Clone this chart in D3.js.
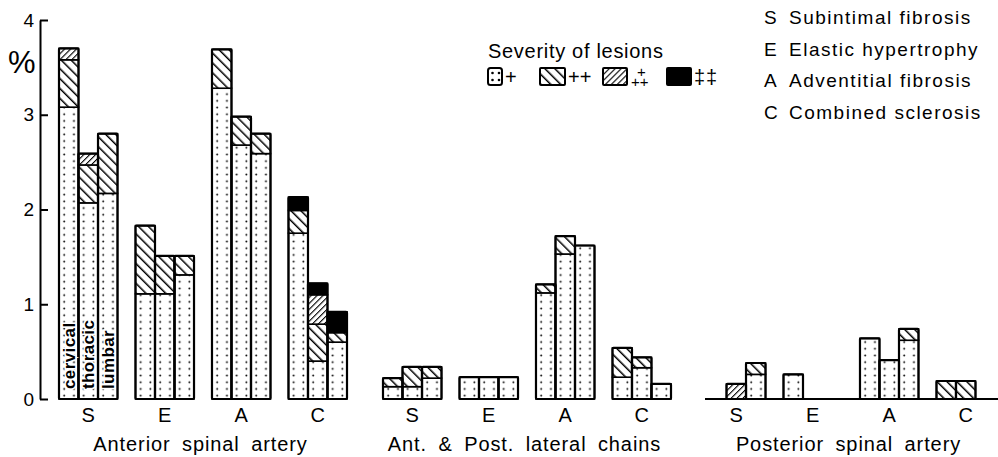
<!DOCTYPE html>
<html>
<head>
<meta charset="utf-8">
<script src="https://cdn.jsdelivr.net/npm/d3@7"></script>
<style>
  body { margin: 0; background: #fff; }
  svg { display: block; font-family: "Liberation Sans", Arial, sans-serif; }
</style>
</head>
<body>
<div id="chart"></div>
<script>
// vessels, lesion types, cord levels
const clusters = ["Anterior spinal artery", "Ant. & Post. lateral chains", "Posterior spinal artery"];
const groups = ["S", "E", "A", "C"];
const regions = ["cervical", "thoracic", "lumbar"];
const severityKeys = ["p1", "p2", "p3", "p4"];

// values (%) per cluster -> group -> [cervical, thoracic, lumbar]
// "+"
const sevPlus = [
  [[3.08, 2.07, 2.17], [1.11, 1.11, 1.31], [3.28, 2.68, 2.59], [1.75, 0.40, 0.60]],
  [[0.13, 0.13, 0.22], [0.23, 0.23, 0.23], [1.12, 1.53, 1.62], [0.23, 0.33, 0.16]],
  [[0, 0, 0.26], [0.26, 0, 0], [0.64, 0.41, 0.62], [0, 0, 0]]
];
// "++"
const sevPlus2 = [
  [[0.50, 0.40, 0.63], [0.72, 0.40, 0.20], [0.41, 0.30, 0.21], [0.24, 0.39, 0.10]],
  [[0.09, 0.21, 0.12], [0, 0, 0], [0.09, 0.19, 0], [0.31, 0.11, 0]],
  [[0, 0, 0.12], [0, 0, 0], [0, 0, 0.12], [0.19, 0.19, 0]]
];
// "+++"
const sevPlus3 = [
  [[0.12, 0.12, 0], [0, 0, 0], [0, 0, 0], [0, 0.31, 0]],
  [[0, 0, 0], [0, 0, 0], [0, 0, 0], [0, 0, 0]],
  [[0, 0.16, 0], [0, 0, 0], [0, 0, 0], [0, 0, 0]]
];
// "‡‡"
const sevPlus4 = [
  [[0, 0, 0], [0, 0, 0], [0, 0, 0], [0.14, 0.12, 0.22]],
  [[0, 0, 0], [0, 0, 0], [0, 0, 0], [0, 0, 0]],
  [[0, 0, 0], [0, 0, 0], [0, 0, 0], [0, 0, 0]]
];

const yTicks = [0, 1, 2, 3, 4];
const typeLegend = [
  { code: "S", text: "Subintimal fibrosis" },
  { code: "E", text: "Elastic hypertrophy" },
  { code: "A", text: "Adventitial fibrosis" },
  { code: "C", text: "Combined sclerosis" }
];

const width = 998, height = 457;

// build rows for the stack
let rows = [];
clusters.forEach((cl, ci) => {
  groups.forEach((g, gi) => {
    regions.forEach((r, ri) => {
      rows.push({
        id: rows.length,
        cluster: cl, group: g, region: r,
        p1: sevPlus[ci][gi][ri],
        p2: sevPlus2[ci][gi][ri],
        p3: sevPlus3[ci][gi][ri],
        p4: sevPlus4[ci][gi][ri]
      });
    });
  });
});

const svg = d3.select("#chart").append("svg")
  .attr("width", width)
  .attr("height", height);

// scales
const x0 = d3.scaleBand().domain(clusters).range([59, 994]).paddingInner(37 / 324).paddingOuter(0);
const x1 = d3.scaleBand().domain(groups).range([0, 288]).paddingInner(0.235).paddingOuter(0);
const x2 = d3.scaleBand().domain(regions).range([0, x1.bandwidth()]);
const y = d3.scaleLinear().domain([0, 4]).range([399, 20]);

const barX = d => x0(d.cluster) + x1(d.group) + x2(d.region);
const bw = x2.bandwidth();

// patterns
const defs = svg.append("defs");

// dotted "+" : one pattern per bar so the two dot columns line up in every bar
const dotPat = defs.selectAll("pattern.dots")
  .data(rows)
  .join("pattern")
  .attr("class", "dots")
  .attr("id", d => "dots" + d.id)
  .attr("patternUnits", "userSpaceOnUse")
  .attr("x", d => barX(d)).attr("y", y(0))
  .attr("width", bw / 2).attr("height", 6.7);
dotPat.append("rect").attr("width", bw / 2).attr("height", 6.7).attr("fill", "#fff");
dotPat.append("circle").attr("cx", bw / 4 + 0.3).attr("cy", 3.3).attr("r", 0.95).attr("fill", "#000");

// "++" : lines running top-left to bottom-right
const hatchBack = defs.append("pattern")
  .attr("id", "hatchBack").attr("patternUnits", "userSpaceOnUse")
  .attr("width", 7).attr("height", 7)
  .attr("patternTransform", "rotate(-45)");
hatchBack.append("rect").attr("width", 7).attr("height", 7).attr("fill", "#fff");
hatchBack.append("line").attr("x1", 0).attr("y1", 0).attr("x2", 0).attr("y2", 7)
  .attr("stroke", "#000").attr("stroke-width", 3);

// "+++" : denser lines the other way
const hatchFwd = defs.append("pattern")
  .attr("id", "hatchFwd").attr("patternUnits", "userSpaceOnUse")
  .attr("width", 4.2).attr("height", 4.2)
  .attr("patternTransform", "rotate(45)");
hatchFwd.append("rect").attr("width", 4.2).attr("height", 4.2).attr("fill", "#fff");
hatchFwd.append("line").attr("x1", 0).attr("y1", 0).attr("x2", 0).attr("y2", 4.2)
  .attr("stroke", "#000").attr("stroke-width", 2.2);

const fillFor = (key, row) => {
  if (key === "p1") return `url(#dots${row.id})`;
  if (key === "p2") return "url(#hatchBack)";
  if (key === "p3") return "url(#hatchFwd)";
  return "#000";
};

// y axis
const yAxis = d3.axisLeft(y).tickValues(yTicks).tickFormat(d3.format("d"))
  .tickSize(-8).tickSizeOuter(0).tickPadding(6);
const ya = svg.append("g")
  .attr("transform", "translate(40,0)")
  .call(yAxis);
ya.select(".domain").attr("stroke-width", 2);
ya.selectAll(".tick line").attr("stroke-width", 2);
ya.selectAll(".tick text").attr("font-size", 19).attr("fill", "#000")
  .attr("font-family", "Liberation Sans, Arial, sans-serif");

svg.append("text")
  .attr("x", 8).attr("y", 73)
  .attr("font-size", 31)
  .text("%");

// posterior baseline
svg.append("line")
  .attr("x1", x0(clusters[2]) - 2).attr("x2", width)
  .attr("y1", y(0)).attr("y2", y(0))
  .attr("stroke", "#000").attr("stroke-width", 2.2);

// stacked bars
const series = d3.stack().keys(severityKeys)(rows);
const bars = svg.append("g");
series.forEach(s => {
  bars.append("g")
    .selectAll("rect")
    .data(s.filter(d => d[1] - d[0] > 0))
    .join("rect")
    .attr("x", d => barX(d.data))
    .attr("width", bw)
    .attr("y", d => y(d[1]))
    .attr("height", d => y(d[0]) - y(d[1]))
    .attr("fill", d => fillFor(s.key, d.data))
    .attr("stroke", "#000")
    .attr("stroke-width", 1.6);
});

// outline each bar
bars.append("g")
  .selectAll("rect")
  .data(rows.filter(d => d.p1 + d.p2 + d.p3 + d.p4 > 0))
  .join("rect")
  .attr("x", d => barX(d))
  .attr("width", bw)
  .attr("y", d => y(d.p1 + d.p2 + d.p3 + d.p4))
  .attr("height", d => y(0) - y(d.p1 + d.p2 + d.p3 + d.p4))
  .attr("fill", "none")
  .attr("stroke", "#000")
  .attr("stroke-width", 2.2)
  .attr("rx", 1);

// region names inside the first group
svg.append("g")
  .selectAll("text")
  .data(regions)
  .join("text")
  .attr("transform", r => `translate(${x0(clusters[0]) + x1("S") + x2(r) + bw / 2 + 6},${y(0) - 10}) rotate(-90)`)
  .attr("font-size", 17)
  .attr("font-weight", "bold")
  .attr("letter-spacing", 0.4)
  .attr("stroke", "#fff")
  .attr("stroke-width", 3)
  .attr("paint-order", "stroke")
  .text(r => r);

// group labels
const labels = svg.append("g").attr("font-size", 20);
clusters.forEach(cl => {
  labels.append("g")
    .selectAll("text")
    .data(groups)
    .join("text")
    .attr("x", g => x0(cl) + x1(g) + x1.bandwidth() / 2)
    .attr("y", 422)
    .attr("text-anchor", "middle")
    .text(g => g);
});
labels.selectAll(".cl")
  .data(clusters)
  .join("text")
  .attr("class", "cl")
  .attr("x", cl => x0(cl) + x0.bandwidth() / 2 - 2)
  .attr("y", 451)
  .attr("text-anchor", "middle")
  .attr("letter-spacing", 0.9)
  .attr("word-spacing", 5)
  .text(cl => cl);

// severity legend
const leg = svg.append("g").attr("font-size", 20);
leg.append("text").attr("x", 488).attr("y", 58).attr("letter-spacing", 0.7).text("Severity of lesions");
const sw = [
  { x: 488, w: 14, fill: "#fff", label: "+" },
  { x: 540, w: 25, fill: "url(#hatchBack)", label: "++" },
  { x: 603, w: 24, fill: "url(#hatchFwd)", label: "" },
  { x: 667, w: 24, fill: "#000", label: "‡‡" }
];
leg.selectAll("rect")
  .data(sw)
  .join("rect")
  .attr("x", d => d.x).attr("y", 68)
  .attr("width", d => d.w).attr("height", 17)
  .attr("rx", d => d.x === 488 ? 2.5 : 1)
  .attr("fill", d => d.fill)
  .attr("stroke", "#000").attr("stroke-width", 2);
[[492.5, 73], [499, 73], [492.5, 80], [499, 80]].forEach(p => {
  leg.append("circle").attr("cx", p[0]).attr("cy", p[1]).attr("r", 1.3);
});
leg.selectAll(".sl")
  .data(sw.filter(d => d.label))
  .join("text")
  .attr("class", "sl")
  .attr("x", d => d.x + d.w + 3)
  .attr("y", 84)
  .attr("letter-spacing", d => d.label === "‡‡" ? 1 : 0)
  .text(d => d.label);
// stacked plus signs for +++
const ppp = leg.append("text").attr("font-size", 15);
ppp.append("tspan").attr("x", 637).attr("y", 77).text("+");
ppp.append("tspan").attr("x", 631).attr("y", 87).text("++");

// lesion type legend
const tl = svg.append("g").attr("font-size", 19);
tl.selectAll(".code")
  .data(typeLegend)
  .join("text")
  .attr("class", "code")
  .attr("x", 764)
  .attr("y", (d, i) => 24 + i * 31.5)
  .text(d => d.code);
tl.selectAll(".desc")
  .data(typeLegend)
  .join("text")
  .attr("class", "desc")
  .attr("x", 789)
  .attr("y", (d, i) => 24 + i * 31.5)
  .attr("letter-spacing", 1.5)
  .text(d => d.text);
</script>
</body>
</html>
